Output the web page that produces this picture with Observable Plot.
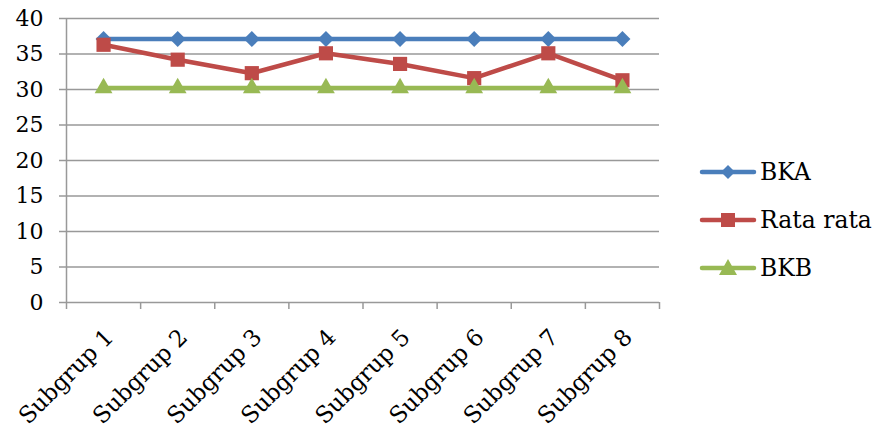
<!DOCTYPE html>
<html>
<head>
<meta charset="utf-8">
<script src="https://cdn.jsdelivr.net/npm/d3@7"></script>
<script src="https://cdn.jsdelivr.net/npm/@observablehq/plot@0.6"></script>
<style>
  html, body { margin: 0; padding: 0; background: #fff; }
  #wrap { position: relative; width: 880px; height: 432px; font-family: "DejaVu Serif", serif; }
  #legend { position: absolute; left: 699px; top: 148px; font-family: "DejaVu Serif", serif; font-size: 23.5px; color: #000; }
  .row { display: flex; align-items: center; height: 48px; }
  .row svg { margin-right: 3px; }
</style>
</head>
<body>
<div id="wrap"></div>
<script>
const categories = ["Subgrup 1","Subgrup 2","Subgrup 3","Subgrup 4","Subgrup 5","Subgrup 6","Subgrup 7","Subgrup 8"];
const bka = [37.1, 37.1, 37.1, 37.1, 37.1, 37.1, 37.1, 37.1];
const rata = [36.3, 34.2, 32.3, 35.1, 33.6, 31.6, 35.1, 31.3];
const bkb = [30.2, 30.2, 30.2, 30.2, 30.2, 30.2, 30.2, 30.2];
const yTicks = [0, 5, 10, 15, 20, 25, 30, 35, 40];

const seriesDefs = [
  {name: "BKA", values: bka, color: "#4a7ebb", symbol: "diamond2", r: 7.2},
  {name: "Rata rata", values: rata, color: "#be4b48", symbol: "square", r: 8},
  {name: "BKB", values: bkb, color: "#98b954", symbol: "triangle", r: 6.6}
];

const rows = seriesDefs.flatMap(s => s.values.map((v, i) => ({series: s.name, idx: i + 0.5, cat: categories[i], value: v})));
const centers = categories.map((c, i) => i + 0.5);
const bounds = d3.range(categories.length + 1);

const marks = [
  Plot.ruleY(yTicks.slice(1), {stroke: "#999", strokeWidth: 1.5}),
  Plot.ruleY([0], {stroke: "#999", strokeWidth: 1.5}),
  Plot.ruleX([0], {stroke: "#999", strokeWidth: 1.5}),
  Plot.axisY({ticks: yTicks, tickSize: 7, tickPadding: 16, stroke: "#999", strokeWidth: 1.5, fontSize: 22, fill: "#000", tickFormat: d => d, label: null}),
  Plot.axisX({ticks: bounds, tickSize: 7, tickFormat: () => "", stroke: "#999", strokeWidth: 1.5, label: null}),
  Plot.axisX({ticks: centers, tickSize: 0, tickPadding: 31, tickRotate: -45, fontSize: 23, fill: "#000", dx: 6, tickFormat: d => categories[Math.round(d - 0.5)], label: null})
];
for (const s of seriesDefs) {
  const data = rows.filter(d => d.series === s.name);
  marks.push(Plot.line(data, {x: "idx", y: "value", stroke: s.color, strokeWidth: 4.5}));
}
for (const s of seriesDefs) {
  const data = rows.filter(d => d.series === s.name);
  marks.push(Plot.dot(data, {x: "idx", y: "value", fill: s.color, symbol: s.symbol, r: s.r, stroke: "none"}));
}

const chart = Plot.plot({
  width: 880,
  height: 432,
  marginLeft: 66,
  marginRight: 221,
  marginTop: 18,
  marginBottom: 130,
  style: {fontFamily: "DejaVu Serif, serif", background: "#fff", overflow: "visible"},
  x: {type: "linear", domain: [0, categories.length], axis: null},
  y: {domain: [0, 40], axis: null},
  symbol: {type: "identity"},
  marks
});
const wrap = document.getElementById("wrap");
wrap.appendChild(chart);

const legend = document.createElement("div");
legend.id = "legend";
const symPaths = {
  "diamond2": "M29,3 L36,10 L29,17 L22,10 Z",
  "square": "M22,3 H36 V17 H22 Z",
  "triangle": "M29,1 L38,17 L20,17 Z"
};
for (const s of seriesDefs) {
  const row = document.createElement("div");
  row.className = "row";
  row.innerHTML = `<svg width="58" height="20"><line x1="3" y1="10" x2="55" y2="10" stroke="${s.color}" stroke-width="4.5" stroke-linecap="round"/><path d="${symPaths[s.symbol]}" fill="${s.color}"/></svg><span>${s.name}</span>`;
  legend.appendChild(row);
}
wrap.appendChild(legend);
</script>
</body>
</html>
